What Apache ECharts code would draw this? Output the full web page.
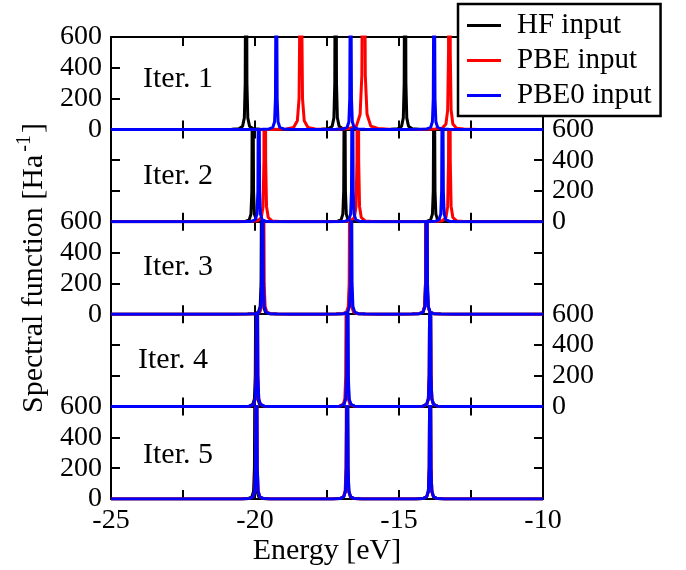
<!DOCTYPE html>
<html>
<head>
<meta charset="utf-8">
<script src="https://cdn.jsdelivr.net/npm/echarts@6/dist/echarts.min.js"></script>
<style>
  html, body { margin: 0; padding: 0; background: #fff; }
  #chart { width: 686px; height: 570px; }
</style>
</head>
<body>
<div id="chart"></div>
<script>
// peak positions (eV), Iter. 1 .. Iter. 5
var hfPeaks   = [[-20.31, -17.20, -14.79], [-20.08, -16.89, -13.78], [-19.76, -16.68, -14.05], [-19.96, -16.80, -13.92], [-19.99, -16.80, -13.92]];
var pbePeaks  = [[-18.41, -16.23, -13.25], [-19.66, -16.43, -13.25], [-19.71, -16.70, -14.05], [-19.93, -16.82, -13.92], [-19.95, -16.81, -13.92]];
var pbe0Peaks = [[-19.26, -16.68, -13.78], [-19.87, -16.62, -13.49], [-19.74, -16.66, -14.04], [-19.93, -16.79, -13.92], [-19.95, -16.80, -13.92]];
// tail strength of each peak (1 = sharpest)
var hfTail   = [[1.5, 1.5, 1.5], [1, 1, 1], [1, 1, 1], [1, 1, 1], [1, 1, 1]];
var pbeTail  = [[4, 7, 2.5], [2, 2, 2], [1, 1, 1], [1, 1, 1], [1, 1, 1]];
var pbe0Tail = [[1, 1, 1], [1, 1, 1], [1, 1, 1], [1, 1, 1], [1, 1, 1]];
// shape of one peak: offset from centre (eV) and height (1/Ha)
var shapeDx = [-1.0, -0.5, -0.25, -0.12, -0.06, -0.03, -0.015, 0, 0.015, 0.03, 0.06, 0.12, 0.25, 0.5, 1.0];
var shapeY  = [0, 0.8, 3, 14, 50, 200, 800, 3000, 800, 200, 50, 14, 3, 0.8, 0];

var panelNames = ['Iter. 1', 'Iter. 2', 'Iter. 3', 'Iter. 4', 'Iter. 5'];
var methodNames = ['HF input', 'PBE input', 'PBE0 input'];
var methodColors = ['#000000', '#ff0000', '#0000ff'];
var energyMin = -25, energyMax = -10, energyStep = 2.5;
var specMin = 0, specMax = 600, specStep = 200;
var leftLabelPanels = [0, 2, 4];
var rightLabelPanels = [1, 3];

var FONT = 'Liberation Serif';
var GRID_LEFT = 111, GRID_RIGHT = 143, GRID_TOP = 37, PANEL_H = 92.4;
var labelPos = [[143, 79], [143, 176], [143, 267], [138, 360], [143, 455]];

function spectrum(peaks, tails) {
  var pts = [[energyMin, 0]];
  peaks.forEach(function (c, k) {
    shapeDx.forEach(function (d, j) {
      pts.push([c + d, shapeY[j] * tails[k]]);
    });
  });
  pts.push([energyMax, 0]);
  return pts;
}

var allPeaks = [hfPeaks, pbePeaks, pbe0Peaks];
var allTails = [hfTail, pbeTail, pbe0Tail];

var lineAx = { show: true, onZero: false, lineStyle: { color: '#000', width: 2 } };
var tickAx = { show: true, inside: true, length: 9, lineStyle: { color: '#000', width: 2 } };

function labelStyle(show) {
  return { show: show, margin: 9, fontFamily: FONT, fontSize: 28, color: '#000' };
}

var grids = [], xAxes = [], yAxes = [], series = [], graphics = [];
for (var i = 0; i < 5; i++) {
  grids.push({ left: GRID_LEFT, right: GRID_RIGHT, top: GRID_TOP + i * PANEL_H, height: PANEL_H });
  var isLast = i === 4;
  var xl = labelStyle(isLast);
  xl.margin = 8;
  xl.formatter = function (v) { return v % 5 === 0 ? String(v) : ''; };
  xAxes.push({
    gridIndex: i, type: 'value', position: 'bottom', min: energyMin, max: energyMax, interval: energyStep,
    axisLine: lineAx, axisTick: tickAx, splitLine: { show: false }, axisLabel: xl,
    name: isLast ? 'Energy [eV]' : '', nameLocation: 'middle', nameGap: 35,
    nameTextStyle: { fontFamily: FONT, fontSize: 30, color: '#000' }
  });
  xAxes.push({
    gridIndex: i, type: 'value', position: 'top', min: energyMin, max: energyMax, interval: energyStep,
    axisLine: lineAx, axisTick: tickAx, splitLine: { show: false }, axisLabel: { show: false }
  });
  yAxes.push({
    gridIndex: i, type: 'value', position: 'left', min: specMin, max: specMax, interval: specStep,
    axisLine: lineAx, axisTick: tickAx, splitLine: { show: false },
    axisLabel: labelStyle(leftLabelPanels.indexOf(i) >= 0),
    name: i === 2 ? '{t|Spectral function [Ha}{sup|-1}{t|]}' : '', nameLocation: 'middle', nameRotate: 90, nameGap: 55,
    nameTextStyle: {
      fontFamily: FONT, fontSize: 30, color: '#000',
      rich: {
        t: { fontFamily: FONT, fontSize: 30, color: '#000' },
        sup: { fontFamily: FONT, fontSize: 20, color: '#000', verticalAlign: 'top', padding: [0, 2, 18, 3] }
      }
    }
  });
  yAxes.push({
    gridIndex: i, type: 'value', position: 'right', min: specMin, max: specMax, interval: specStep,
    axisLine: lineAx, axisTick: tickAx, splitLine: { show: false },
    axisLabel: labelStyle(rightLabelPanels.indexOf(i) >= 0)
  });
  for (var m = 0; m < 3; m++) {
    series.push({
      name: methodNames[m], type: 'line', xAxisIndex: 2 * i, yAxisIndex: 2 * i,
      data: spectrum(allPeaks[m][i], allTails[m][i]),
      showSymbol: false, symbol: 'none', clip: true, animation: false,
      color: methodColors[m], lineStyle: { width: 3, color: methodColors[m] }, z: 2 + m
    });
  }
  graphics.push({
    type: 'text', x: labelPos[i][0], y: labelPos[i][1],
    style: { text: panelNames[i], font: '30px "' + FONT + '"', fill: '#000', verticalAlign: 'middle' }
  });
}

var chart = echarts.init(document.getElementById('chart'), null, { renderer: 'canvas' });
chart.setOption({
  animation: false,
  backgroundColor: '#fff',
  textStyle: { fontFamily: FONT, color: '#000' },
  grid: grids,
  xAxis: xAxes,
  yAxis: yAxes,
  series: series,
  graphic: graphics,
  legend: {
    data: methodNames, orient: 'vertical', left: 458, top: 4,
    padding: [7, 9, 6, 9], itemGap: 6, itemWidth: 34, itemHeight: 3, icon: 'rect',
    backgroundColor: '#fff', borderColor: '#000', borderWidth: 2.5, selectedMode: false,
    textStyle: { fontFamily: FONT, fontSize: 29, color: '#000', padding: [0, 0, 0, 11] },
    z: 10
  }
});
</script>
</body>
</html>
